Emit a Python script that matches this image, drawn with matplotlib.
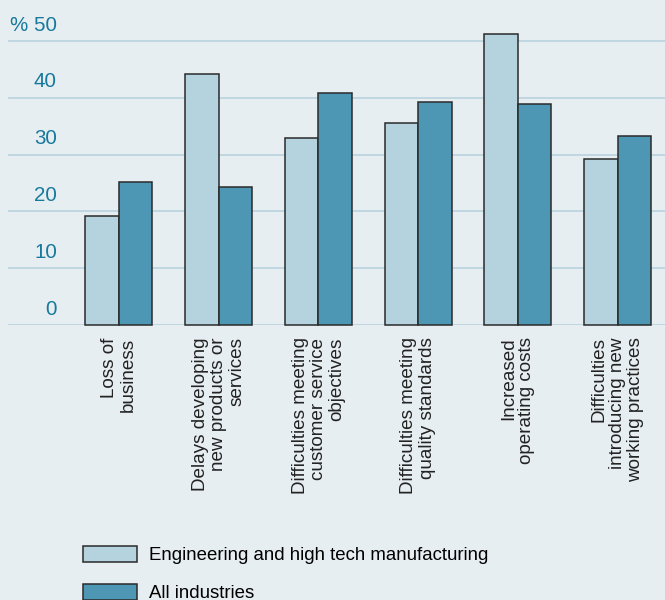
import matplotlib.pyplot as plt
from matplotlib.transforms import blended_transform_factory
import numpy as np

plt.rcParams['font.family'] = ['Liberation Sans', 'DejaVu Sans']

categories = [
    "Loss of\nbusiness",
    "Delays developing\nnew products or\nservices",
    "Difficulties meeting\ncustomer service\nobjectives",
    "Difficulties meeting\nquality standards",
    "Increased\noperating costs",
    "Difficulties\nintroducing new\nworking practices",
]
engineering = [19.2, 44.2, 32.9, 35.6, 51.2, 29.2]
all_industries = [25.2, 24.3, 40.8, 39.3, 38.9, 33.3]
series_names = ["Engineering and high tech manufacturing", "All industries"]
yticks = [0, 10, 20, 30, 40, 50]
ytick_labels = ["0", "10", "20", "30", "40", "% 50"]

bg = '#e7eef2'
light = '#b5d3df'
dark = '#4e97b4'
edge = '#2a2a2a'
tick_color = '#17799b'
grid_color = '#b9d2de'

W, H = 665, 600
fig = plt.figure(figsize=(W / 100, H / 100), dpi=100, facecolor=bg)
ax = fig.add_axes([8 / W, 1 - 325 / H, (W - 8) / W, 325 / H])
ax.set_facecolor(bg)

x = np.arange(len(categories))
w = 0.336
b1 = ax.bar(x - w / 2, engineering, w, color=light, edgecolor=edge,
            linewidth=1.1, clip_on=False, zorder=3, label=series_names[0])
b2 = ax.bar(x + w / 2, all_industries, w, color=dark, edgecolor=edge,
            linewidth=1.1, clip_on=False, zorder=3, label=series_names[1])

ax.set_xlim(-1.113, 5.476)
ax.set_ylim(0, 57.2)

# horizontal rules, labels sit just above each one
for v in yticks:
    ax.axhline(v, color=grid_color, linewidth=1.2, zorder=1)
trans = blended_transform_factory(ax.transAxes, ax.transData)
for v, lab in zip(yticks, ytick_labels):
    ax.annotate(lab, xy=(49 / (W - 8), v), xycoords=trans,
                xytext=(0, 4.5), textcoords='offset points',
                ha='right', va='bottom', fontsize=14.8, color=tick_color)

ax.set_yticks([])
ax.set_xticks(x)
ax.set_xticklabels(categories, rotation=90, fontsize=13.6, color='#222222',
                   multialignment='right', linespacing=1.1)
ax.tick_params(axis='x', length=0, pad=9)
for s in ax.spines.values():
    s.set_visible(False)

fig.legend(handles=[b1, b2], labels=series_names, loc='upper left',
           bbox_to_anchor=(83 / W, 1 - 546 / H), frameon=False,
           fontsize=13.4, handlelength=2.9, handleheight=0.95,
           handletextpad=0.65, labelspacing=1.05, borderpad=0,
           borderaxespad=0)

fig.savefig('out.png', dpi=100, facecolor=bg)
